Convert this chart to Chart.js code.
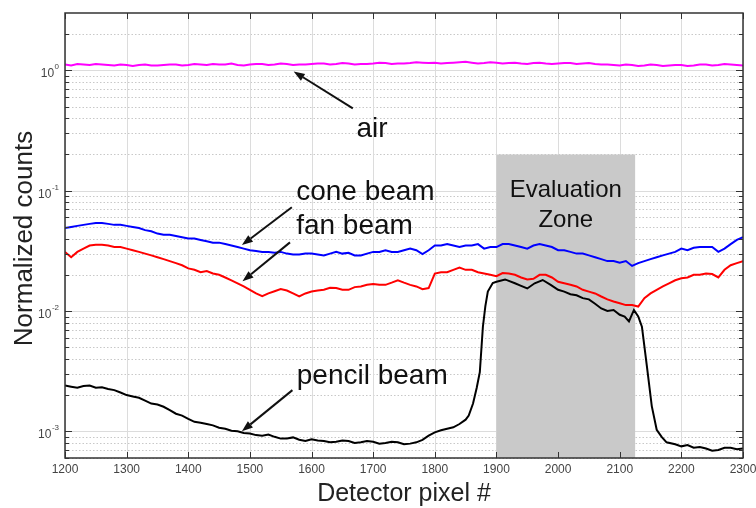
<!DOCTYPE html>
<html>
<head>
<meta charset="utf-8">
<script src="https://cdn.jsdelivr.net/npm/chart.js@4.4.1/dist/chart.umd.min.js"></script>
<style>
html,body{margin:0;padding:0;background:#fff;}
#wrap{width:756px;height:508px;position:relative;}
</style>
</head>
<body>
<div id="wrap"><canvas id="c" width="756" height="508"></canvas></div>
<script>
// ---- data ----
const PIXELS = [1200,1210,1220,1230,1240,1250,1260,1270,1280,1290,
1300,1310,1320,1330,1340,1350,1360,1370,1380,1390,
1400,1410,1420,1430,1440,1450,1460,1470,1480,1490,
1500,1510,1520,1530,1540,1550,1560,1570,1580,1590,
1600,1610,1620,1630,1640,1650,1660,1670,1680,1690,
1700,1710,1720,1730,1740,1750,1760,1770,1780,1790,
1800,1810,1820,1830,1840,1850,1860,1870,1880,1890,
1900,1910,1920,1930,1940,1950,1960,1970,1980,1990,
2000,2010,2020,2030,2040,2050,2060,2070,2080,2090,
2100,2110,2120,2130,2140,2150,2160,2170,2180,2190,
2200,2210,2220,2230,2240,2250,2260,2270,2280,2290,2300];
const AIR = [1.12,1.10,1.13,1.12,1.11,1.13,1.12,1.11,1.10,1.12,
1.11,1.09,1.11,1.12,1.10,1.10,1.11,1.12,1.12,1.10,
1.11,1.13,1.12,1.11,1.13,1.12,1.12,1.14,1.11,1.10,
1.12,1.13,1.13,1.11,1.12,1.14,1.13,1.11,1.12,1.12,
1.13,1.14,1.14,1.12,1.13,1.15,1.14,1.12,1.13,1.13,
1.14,1.16,1.15,1.13,1.14,1.14,1.15,1.17,1.16,1.15,
1.16,1.14,1.15,1.16,1.17,1.18,1.16,1.14,1.15,1.17,
1.16,1.14,1.15,1.16,1.14,1.13,1.15,1.16,1.14,1.13,
1.14,1.15,1.15,1.13,1.14,1.15,1.13,1.12,1.12,1.11,
1.10,1.12,1.11,1.09,1.10,1.12,1.11,1.09,1.10,1.11,
1.11,1.09,1.10,1.12,1.12,1.10,1.11,1.13,1.12,1.11,1.10];
const CONE_BEAM = [0.049,0.050,0.051,0.052,0.053,0.054,0.054,0.053,0.052,0.052,
0.051,0.050,0.049,0.047,0.046,0.044,0.043,0.043,0.042,0.041,
0.040,0.040,0.039,0.038,0.037,0.037,0.036,0.035,0.034,0.033,
0.032,0.0315,0.031,0.031,0.0305,0.031,0.030,0.0295,0.0295,0.030,
0.030,0.0295,0.029,0.030,0.031,0.030,0.0305,0.029,0.029,0.030,
0.031,0.031,0.032,0.031,0.031,0.032,0.033,0.032,0.0297,0.032,
0.035,0.035,0.036,0.035,0.034,0.035,0.035,0.036,0.033,0.034,
0.034,0.036,0.036,0.035,0.034,0.033,0.035,0.036,0.035,0.034,
0.032,0.032,0.031,0.030,0.030,0.029,0.028,0.027,0.026,0.026,
0.0252,0.026,0.0237,0.025,0.026,0.027,0.028,0.029,0.030,0.031,
0.033,0.032,0.0335,0.034,0.034,0.034,0.031,0.033,0.036,0.039,0.041];
const FAN_BEAM = [0.031,0.028,0.031,0.033,0.035,0.0355,0.0355,0.035,0.034,0.034,
0.033,0.032,0.031,0.030,0.029,0.028,0.027,0.026,0.025,0.024,
0.0226,0.022,0.021,0.0215,0.0205,0.020,0.019,0.018,0.017,0.016,
0.0150,0.0140,0.0133,0.0140,0.0146,0.0152,0.0148,0.0140,0.0132,0.0140,
0.0145,0.0148,0.0150,0.0156,0.0155,0.0150,0.0150,0.0158,0.016,0.0165,
0.0168,0.0165,0.0165,0.0172,0.018,0.0172,0.0165,0.016,0.0152,0.0155,
0.0205,0.021,0.021,0.022,0.023,0.022,0.022,0.021,0.0205,0.020,
0.0195,0.0207,0.0205,0.020,0.019,0.0183,0.0185,0.020,0.020,0.019,
0.0175,0.017,0.0165,0.016,0.015,0.0145,0.014,0.0132,0.0125,0.012,
0.0116,0.0112,0.0112,0.0109,0.0128,0.014,0.015,0.016,0.017,0.018,
0.0187,0.019,0.020,0.020,0.0205,0.0203,0.019,0.022,0.024,0.025,0.026];
const PENCIL_PIXELS = [1200,1210,1220,1230,1240,1250,1260,1270,1280,1290,
1300,1310,1320,1330,1340,1350,1360,1370,1380,1390,
1400,1410,1420,1430,1440,1450,1460,1470,1480,1490,
1500,1510,1520,1530,1540,1550,1560,1570,1580,1590,
1600,1610,1620,1630,1640,1650,1660,1670,1680,1690,
1700,1710,1720,1730,1740,1750,1760,1770,1780,1790,
1800,1810,1820,1830,1840,1850,
1855,1862,1868,1873,1878,1882,1886,1894,1900,
1914,1930,1940,1950,1962,1975,1988,2000,
2010,2020,2030,2040,2050,2060,2070,2080,2090,2100,
2108,2115,2123,2130,2136,2144,2152,2160,2168,2176,
2190,2200,2210,2220,2230,2240,2250,2260,2270,2280,2290,2300];
const PENCIL_BEAM = [0.0024,0.00235,0.0023,0.00238,0.0024,0.0023,0.00232,0.00225,0.0022,0.0021,
0.0020,0.00195,0.0019,0.0018,0.0017,0.00167,0.0016,0.0015,0.0014,0.00135,
0.00127,0.0012,0.00118,0.00115,0.00112,0.00107,0.00105,0.00101,0.00100,0.00097,
0.00096,0.00093,0.00092,0.00094,0.00090,0.00087,0.00087,0.00089,0.00085,0.00083,
0.00086,0.00084,0.00083,0.00081,0.00082,0.00084,0.00083,0.00080,0.00081,0.00083,
0.00082,0.00079,0.00080,0.00082,0.00081,0.00078,0.00079,0.00081,0.00085,0.00092,
0.00098,0.00102,0.00105,0.00108,0.00115,0.00125,
0.00135,0.0017,0.0023,0.0031,0.0074,0.011,0.0145,0.0171,0.0175,
0.0183,0.017,0.0162,0.0154,0.017,0.0181,0.0165,0.0150,
0.0145,0.0138,0.0135,0.0128,0.0125,0.0115,0.0105,0.0100,0.0102,0.0093,
0.009,0.0082,0.0102,0.0090,0.0074,0.0035,0.00162,0.00103,0.0009,0.00081,
0.00078,0.00075,0.00077,0.00073,0.00074,0.00072,0.00069,0.00070,0.00073,0.00073,0.00071,0.00072];

const X_TICKS = [1200,1300,1400,1500,1600,1700,1800,1900,2000,2100,2200,2300];
const Y_DECADES = [1e-3,1e-2,1e-1,1];
const Y_DECADE_LABELS = ['-3','-2','-1','0'];
const Y_MINOR = [6e-4,7e-4,8e-4,9e-4,2e-3,3e-3,4e-3,5e-3,6e-3,7e-3,8e-3,9e-3,2e-2,3e-2,4e-2,5e-2,6e-2,7e-2,8e-2,9e-2,0.2,0.3,0.4,0.5,0.6,0.7,0.8,0.9,2];
const ZONE = {x0:1900, x1:2125, top:0.2};

const ANNOTATIONS = [
  {text:'air', x:1698, y:0.278, align:'center', tail:[1667,0.484], head:[1571,0.98]},
  {text:'cone beam', x:1575, y:0.0845, align:'left', tail:[1568,0.0729], head:[1487,0.0353]},
  {text:'fan beam', x:1575, y:0.0435, align:'left', tail:[1565,0.0372], head:[1488,0.01767]},
  {text:'pencil beam', x:1576, y:0.00246, align:'left', tail:[1569,0.0022], head:[1487,0.00100]}
];

const toXY = (xs, ys) => xs.map((x,i)=>({x:x, y:ys[i]}));

const FONT = 'Liberation Sans, Arial, Helvetica, sans-serif';

const decor = {
  id:'decor',
  beforeDatasetsDraw(chart){
    const {ctx, chartArea:a, scales:{x,y}} = chart;
    ctx.save();
    ctx.lineWidth = 1;
    ctx.strokeStyle = '#c8c8c8';
    ctx.setLineDash([1.5,2]);
    Y_MINOR.forEach(v=>{
      const py = Math.round(y.getPixelForValue(v))+0.5;
      ctx.beginPath(); ctx.moveTo(a.left,py); ctx.lineTo(a.right,py); ctx.stroke();
    });
    ctx.setLineDash([]);
    ctx.strokeStyle = '#dcdcdc';
    Y_DECADES.forEach(v=>{
      const py = Math.round(y.getPixelForValue(v))+0.5;
      ctx.beginPath(); ctx.moveTo(a.left,py); ctx.lineTo(a.right,py); ctx.stroke();
    });
    X_TICKS.forEach(v=>{
      const px = Math.round(x.getPixelForValue(v))+0.5;
      ctx.beginPath(); ctx.moveTo(px,a.top); ctx.lineTo(px,a.bottom); ctx.stroke();
    });
    const zx0 = x.getPixelForValue(ZONE.x0), zx1 = x.getPixelForValue(ZONE.x1);
    const zt = y.getPixelForValue(ZONE.top);
    ctx.fillStyle = '#c9c9c9';
    ctx.fillRect(zx0, zt, zx1-zx0, a.bottom-zt);
    ctx.restore();
  },
  afterDatasetsDraw(chart){
    const {ctx, chartArea:a, scales:{x,y}} = chart;
    ctx.save();
    ctx.strokeStyle = '#333';
    ctx.lineWidth = 1;
    X_TICKS.forEach(v=>{
      const px = Math.round(x.getPixelForValue(v))+0.5;
      ctx.beginPath(); ctx.moveTo(px,a.bottom); ctx.lineTo(px,a.bottom-6); ctx.stroke();
      ctx.beginPath(); ctx.moveTo(px,a.top); ctx.lineTo(px,a.top+6); ctx.stroke();
    });
    Y_DECADES.forEach(v=>{
      const py = Math.round(y.getPixelForValue(v))+0.5;
      ctx.beginPath(); ctx.moveTo(a.left,py); ctx.lineTo(a.left+7,py); ctx.stroke();
      ctx.beginPath(); ctx.moveTo(a.right,py); ctx.lineTo(a.right-7,py); ctx.stroke();
    });
    Y_MINOR.forEach(v=>{
      const py = Math.round(y.getPixelForValue(v))+0.5;
      ctx.beginPath(); ctx.moveTo(a.left,py); ctx.lineTo(a.left+4,py); ctx.stroke();
      ctx.beginPath(); ctx.moveTo(a.right,py); ctx.lineTo(a.right-4,py); ctx.stroke();
    });
    ctx.lineWidth = 1.5;
    ctx.strokeStyle = '#333';
    ctx.strokeRect(a.left, a.top, a.right-a.left, a.bottom-a.top);

    // x tick labels
    ctx.fillStyle = '#444';
    ctx.font = '12px ' + FONT;
    ctx.textAlign = 'center';
    ctx.textBaseline = 'alphabetic';
    X_TICKS.forEach(v=>{
      ctx.fillText(String(v), x.getPixelForValue(v), a.bottom + 15);
    });

    // y tick labels 10^n
    Y_DECADES.forEach((v,i)=>{
      const py = y.getPixelForValue(v);
      const exp = Y_DECADE_LABELS[i];
      ctx.font = '8px ' + FONT;
      const ew = ctx.measureText(exp).width;
      const right = a.left - 6;
      ctx.textAlign = 'right';
      ctx.fillText(exp, right, py - 1);
      ctx.font = '12px ' + FONT;
      ctx.fillText('10', right - ew - 0.5, py + 7);
    });

    ctx.fillStyle = '#222';
    ctx.font = '25px ' + FONT;
    ctx.textAlign = 'center';
    ctx.fillText('Detector pixel #', (a.left+a.right)/2, 501);
    ctx.save();
    ctx.translate(32, (a.top+a.bottom)/2 + 3);
    ctx.rotate(-Math.PI/2);
    ctx.font = '26px ' + FONT;
    ctx.fillText('Normalized counts', 0, 0);
    ctx.restore();

    ctx.fillStyle = '#111';
    ctx.font = '24px ' + FONT;
    ctx.textAlign = 'center';
    const zc = x.getPixelForValue((ZONE.x0+ZONE.x1)/2);
    ctx.fillText('Evaluation', zc, y.getPixelForValue(0.0889));
    ctx.fillText('Zone', zc, y.getPixelForValue(0.0495));

    ANNOTATIONS.forEach(an=>{
      ctx.fillStyle = '#111';
      ctx.font = '28px ' + FONT;
      ctx.textAlign = an.align;
      ctx.fillText(an.text, x.getPixelForValue(an.x), y.getPixelForValue(an.y));
      const tx = x.getPixelForValue(an.tail[0]), ty = y.getPixelForValue(an.tail[1]);
      const hx = x.getPixelForValue(an.head[0]), hy = y.getPixelForValue(an.head[1]);
      const ang = Math.atan2(hy-ty, hx-tx);
      const L = 11, W = 4;
      const bx = hx - L*Math.cos(ang), by = hy - L*Math.sin(ang);
      ctx.strokeStyle = '#111';
      ctx.lineWidth = 2;
      ctx.beginPath(); ctx.moveTo(tx,ty); ctx.lineTo(bx,by); ctx.stroke();
      ctx.beginPath();
      ctx.moveTo(hx,hy);
      ctx.lineTo(bx + W*Math.sin(ang), by - W*Math.cos(ang));
      ctx.lineTo(bx - W*Math.sin(ang), by + W*Math.cos(ang));
      ctx.closePath(); ctx.fill();
    });
    ctx.restore();
  }
};

new Chart(document.getElementById('c'), {
  type:'line',
  data:{
    datasets:[
      {label:'air', data:toXY(PIXELS, AIR), borderColor:'#ff00ff'},
      {label:'cone beam', data:toXY(PIXELS, CONE_BEAM), borderColor:'#0000ff'},
      {label:'fan beam', data:toXY(PIXELS, FAN_BEAM), borderColor:'#ff0000'},
      {label:'pencil beam', data:toXY(PENCIL_PIXELS, PENCIL_BEAM), borderColor:'#000000'}
    ]
  },
  options:{
    responsive:false,
    animation:false,
    devicePixelRatio:1,
    layout:{padding:{top:13, right:13, left:0, bottom:0}},
    elements:{line:{borderWidth:2, tension:0}, point:{radius:0}},
    plugins:{legend:{display:false}, tooltip:{enabled:false}},
    scales:{
      x:{
        type:'linear', min:1200, max:2300,
        ticks:{display:false},
        grid:{display:false, drawTicks:false},
        border:{display:false},
        afterFit(s){ s.height = 50; }
      },
      y:{
        type:'logarithmic', min:6e-4, max:3,
        ticks:{display:false},
        grid:{display:false, drawTicks:false},
        border:{display:false},
        afterFit(s){ s.width = 65; }
      }
    }
  },
  plugins:[decor]
});
</script>
</body>
</html>
